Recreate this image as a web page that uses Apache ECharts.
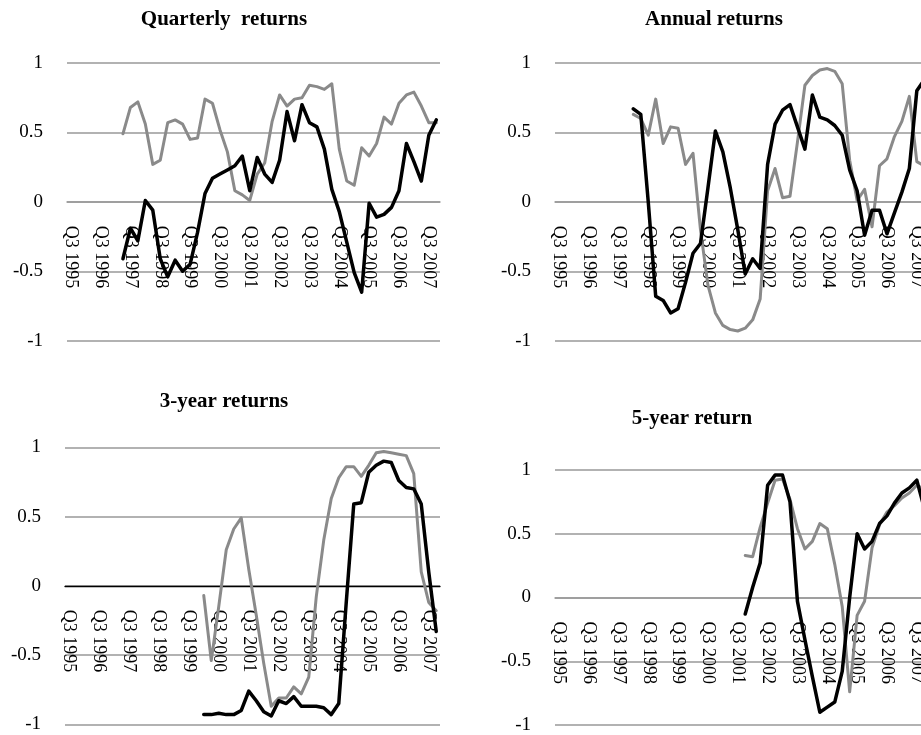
<!DOCTYPE html>
<html>
<head>
<meta charset="utf-8">
<script src="https://cdn.jsdelivr.net/npm/echarts/dist/echarts.min.js"></script>
<style>
html,body{margin:0;padding:0;background:#fff;}
#chart{width:921px;height:735px;}
</style>
</head>
<body>
<div id="chart"></div>
<script>
// Category axis (quarters)
const quarters = ['Q3 1995','Q4 1995',
  'Q1 1996','Q2 1996','Q3 1996','Q4 1996',
  'Q1 1997','Q2 1997','Q3 1997','Q4 1997',
  'Q1 1998','Q2 1998','Q3 1998','Q4 1998',
  'Q1 1999','Q2 1999','Q3 1999','Q4 1999',
  'Q1 2000','Q2 2000','Q3 2000','Q4 2000',
  'Q1 2001','Q2 2001','Q3 2001','Q4 2001',
  'Q1 2002','Q2 2002','Q3 2002','Q4 2002',
  'Q1 2003','Q2 2003','Q3 2003','Q4 2003',
  'Q1 2004','Q2 2004','Q3 2004','Q4 2004',
  'Q1 2005','Q2 2005','Q3 2005','Q4 2005',
  'Q1 2006','Q2 2006','Q3 2006','Q4 2006',
  'Q1 2007','Q2 2007','Q3 2007','Q4 2007'];

const titles = ['Quarterly  returns', 'Annual returns', '3-year returns', '5-year return'];

// Quarterly returns (series start at Q2 1997)
const quarterlyStart = 7;
const quarterlyGray = [0.49,0.68,0.72,0.56,0.27,0.30,0.57,0.59,0.56,0.45,0.46,0.74,0.71,0.52,0.36,0.08,0.05,0.01,0.20,0.28,0.58,0.77,0.69,0.74,0.75,0.84,0.83,0.81,0.85,0.38,0.15,0.12,0.39,0.33,0.42,0.61,0.56,0.71,0.77,0.79,0.69,0.57,0.57];
const quarterlyBlack = [-0.41,-0.19,-0.28,0.01,-0.06,-0.41,-0.54,-0.42,-0.50,-0.45,-0.22,0.06,0.17,0.20,0.23,0.26,0.33,0.08,0.32,0.20,0.14,0.30,0.65,0.44,0.70,0.57,0.54,0.38,0.09,-0.07,-0.29,-0.51,-0.65,-0.01,-0.11,-0.09,-0.04,0.08,0.42,0.29,0.15,0.48,0.59];

// Annual returns (start at Q1 1998)
const annualStart = 10;
const annualGray = [0.63,0.60,0.48,0.74,0.42,0.54,0.53,0.27,0.35,-0.20,-0.60,-0.80,-0.89,-0.92,-0.93,-0.91,-0.85,-0.70,0.08,0.24,0.03,0.04,0.43,0.84,0.91,0.95,0.96,0.94,0.85,0.30,0.01,0.09,-0.18,0.26,0.31,0.47,0.58,0.76,0.29,0.26];
const annualBlack = [0.67,0.63,0.00,-0.68,-0.71,-0.80,-0.77,-0.58,-0.37,-0.30,0.10,0.51,0.36,0.10,-0.20,-0.52,-0.41,-0.48,0.27,0.56,0.66,0.70,0.54,0.38,0.77,0.61,0.59,0.55,0.48,0.23,0.08,-0.24,-0.06,-0.06,-0.23,-0.08,0.07,0.24,0.80,0.88];

// 3-year returns (start at Q1 2000)
const threeYearStart = 18;
const threeYearGray = [-0.07,-0.54,-0.15,0.26,0.41,0.49,0.12,-0.21,-0.56,-0.87,-0.81,-0.81,-0.73,-0.78,-0.66,-0.08,0.33,0.63,0.78,0.86,0.86,0.79,0.87,0.96,0.97,0.96,0.95,0.94,0.81,0.10,-0.12,-0.18];
const threeYearBlack = [-0.93,-0.93,-0.92,-0.93,-0.93,-0.90,-0.76,-0.83,-0.91,-0.94,-0.83,-0.85,-0.80,-0.87,-0.87,-0.87,-0.88,-0.93,-0.85,-0.12,0.59,0.60,0.82,0.87,0.90,0.89,0.76,0.71,0.70,0.59,0.10,-0.33];

// 5-year return (start at Q4 2001)
const fiveYearStart = 25;
const fiveYearGray = [0.33,0.32,0.55,0.74,0.92,0.93,0.77,0.54,0.38,0.44,0.58,0.54,0.26,-0.07,-0.74,-0.14,-0.03,0.39,0.57,0.67,0.72,0.78,0.82,0.88,0.85];
const fiveYearBlack = [-0.13,0.08,0.27,0.88,0.96,0.96,0.75,-0.03,-0.33,-0.62,-0.90,-0.86,-0.82,-0.58,0.00,0.50,0.38,0.44,0.58,0.64,0.74,0.82,0.86,0.92,0.70];

const yTicks = [-1, -0.5, 0, 0.5, 1];

function pad(start, vals) {
  return new Array(start).fill(null).concat(vals);
}

const FONT = 'Liberation Serif, Times New Roman, serif';
const GRAY = '#8a8a8a';
const GRID_COLOR = '#999999';

const panels = [
  {grid:{left:67, top:63, width:373, height:277.7}, title:{x:224, y:9}, gray:pad(quarterlyStart, quarterlyGray), black:pad(quarterlyStart, quarterlyBlack), zeroColor:GRID_COLOR, zeroWidth:1.5},
  {grid:{left:555, top:63, width:373, height:277.7}, title:{x:714, y:9}, gray:pad(annualStart, annualGray), black:pad(annualStart, annualBlack), zeroColor:GRID_COLOR, zeroWidth:1.5},
  {grid:{left:65, top:447.3, width:375, height:277}, title:{x:224, y:391}, gray:pad(threeYearStart, threeYearGray), black:pad(threeYearStart, threeYearBlack), zeroColor:'#000000', zeroWidth:1.3},
  {grid:{left:555, top:470, width:373, height:255}, title:{x:692, y:408}, gray:pad(fiveYearStart, fiveYearGray), black:pad(fiveYearStart, fiveYearBlack), zeroColor:GRID_COLOR, zeroWidth:1.5}
];

const option = {
  animation: false,
  backgroundColor: '#ffffff',
  title: [], grid: [], xAxis: [], yAxis: [], series: []
};

panels.forEach((p, k) => {
  option.title.push({
    text: titles[k], left: p.title.x, top: p.title.y, textAlign: 'center', padding: 0,
    textStyle: {fontFamily: FONT, fontSize: 21, fontWeight: 'bold', color: '#000'}
  });
  option.grid.push(Object.assign({containLabel:false, outerBoundsMode:'none', show:false}, p.grid));
  // the value axis runs symmetrically from -1 to 1, so zero lies at half the grid height
  option.xAxis.push({
    type: 'category', gridIndex: k, data: quarters, boundaryGap: true, position: 'bottom',
    offset: -p.grid.height / 2,
    axisLine: {show: true, onZero: false, lineStyle: {color: p.zeroColor, width: p.zeroWidth}},
    axisTick: {show: false},
    splitLine: {show: false},
    axisLabel: {interval: 3, rotate: -90, margin: 24, fontFamily: FONT, fontSize: 18, color: '#000', hideOverlap: false}
  });
  option.yAxis.push({
    type: 'value', gridIndex: k, min: yTicks[0], max: yTicks[yTicks.length-1], interval: 0.5,
    axisLine: {show: false}, axisTick: {show: false},
    splitLine: {show: true, lineStyle: {color: GRID_COLOR, width: 1.5}},
    axisLabel: {margin: 24, fontFamily: FONT, fontSize: 19, color: '#000'}
  });
  option.series.push({
    type: 'line', xAxisIndex: k, yAxisIndex: k, data: p.gray, showSymbol: false, symbol: 'none',
    connectNulls: false, z: 3,
    lineStyle: {color: GRAY, width: 3, join: 'round', cap: 'round'}
  });
  option.series.push({
    type: 'line', xAxisIndex: k, yAxisIndex: k, data: p.black, showSymbol: false, symbol: 'none',
    connectNulls: false, z: 4,
    lineStyle: {color: '#000000', width: 3.5, join: 'round', cap: 'round'}
  });
});

const chart = echarts.init(document.getElementById('chart'), null, {renderer: 'canvas'});
chart.setOption(option);
</script>
</body>
</html>
